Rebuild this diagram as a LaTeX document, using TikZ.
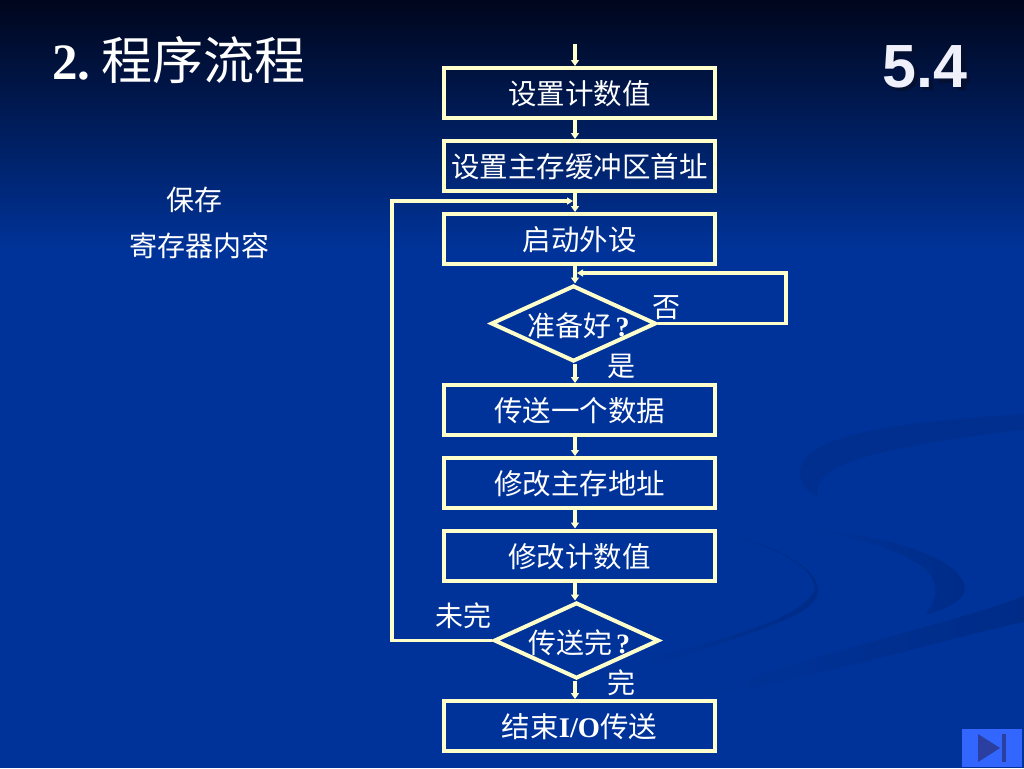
\documentclass[tikz,border=0pt]{standalone}
\usepackage{fontspec}
\usetikzlibrary{shapes.geometric,arrows.meta,calc}
\setmainfont{Noto Sans CJK SC}
\newfontfamily\latinserif{Liberation Serif}
\newfontfamily\latinsans{Liberation Sans}
\definecolor{cream}{HTML}{FFFFCC}
\definecolor{bgtop}{HTML}{00061C}
\definecolor{bgmid}{HTML}{00236C}
\definecolor{bgmain}{HTML}{003399}
\definecolor{swoosh}{HTML}{002C88}
\definecolor{swooshlight}{HTML}{002F90}
\definecolor{btn}{HTML}{3366FF}
\definecolor{btndark}{HTML}{2A3F9F}
\definecolor{numface}{HTML}{F0F0FA}
\definecolor{numshade}{HTML}{050F2E}
\newcommand{\qmark}{\kern4pt{\latinserif\bfseries ?}}
\tikzset{
  x=1pt,y=-1pt,
  flowbox/.style={draw=cream,line width=4pt,rectangle,minimum width=271pt,minimum height=50pt,inner sep=0pt,text=white,text height=26pt,text depth=2.4pt,font=\fontsize{28.5}{28.5}\selectfont},
  flowdia/.style={draw=cream,line width=4pt,diamond,aspect=2.16,minimum width=165pt,minimum height=76pt,inner sep=-8pt,text=white,text height=30pt,text depth=3.4pt,font=\fontsize{28}{28}\selectfont},
  lbl/.style={text=white,inner sep=0pt,font=\fontsize{28}{28}\selectfont},
  conn/.style={draw=cream,line width=3.5pt,-{Triangle[length=6pt,width=8pt]}},
  fback/.style={draw=cream,line width=3.5pt,-{Triangle[length=6pt,width=7pt]},line join=miter},
}
\begin{document}
\begin{tikzpicture}
\useasboundingbox (0,0) rectangle (1024,768);
% background
\fill[bgmain] (0,0) rectangle (1024,768);
\shade[top color=bgtop,middle color=bgmid,bottom color=bgmain] (0,0) rectangle (1024,250);
% swooshes
\fill[swooshlight] (1024,414) .. controls (930,420) and (800,430) .. (800,472) .. controls (800,485) and (808,492) .. (818,497) .. controls (812,470) and (850,450) .. (1024,430) -- cycle;
\shade[left color=bgmain,right color=swoosh] (1024,596) .. controls (950,625) and (800,655) .. (700,697) .. controls (810,680) and (940,640) .. (1024,622) -- cycle;
\shade[left color=bgmain,right color=swoosh] (640,660) .. controls (720,640) and (800,620) .. (815,590) .. controls (815,565) and (770,545) .. (725,535) .. controls (780,545) and (818,570) .. (818,590) .. controls (818,612) and (780,625) .. (640,670) -- cycle;
\shade[left color=bgmain,right color=swoosh] (807,528) .. controls (880,535) and (960,555) .. (965,588) .. controls (965,600) and (945,610) .. (925,615) .. controls (935,600) and (940,590) .. (930,575) .. controls (910,550) and (860,540) .. (807,528) -- cycle;
% button
\fill[btn] (962,729) rectangle (1022,767);
\fill[btndark] (978,734) -- (1000,748) -- (978,762) -- cycle;
\fill[btndark] (1002,734) rectangle (1006,762);
% title
\node[lbl,anchor=west,font=\fontsize{51}{51}\selectfont] (title) at (52,60) {{\latinserif\bfseries 2.}\kern11pt 程序流程};
% drop shadow of the slide number
\begin{scope}[shift={(3,3)}]
\fill[numshade,opacity=.85] (889,43) -- (913,43) -- (913,51) -- (896,51) -- (894,60) .. controls (908,55) and (916,63) .. (916,71) .. controls (916,82) and (908,88) .. (899,88) .. controls (890,88) and (884,83) .. (884,75) -- (892,75) .. controls (892,79) and (896,81) .. (899,81) .. controls (904,81) and (908,77) .. (908,71) .. controls (908,66) and (904,62) .. (899,62) .. controls (896,62) and (894,63) .. (892,66) -- (885,66) -- cycle;
\fill[numshade,opacity=.85] (920,77) rectangle (930,87);
\fill[numshade,opacity=.85,even odd rule] (956,43) -- (936,73) -- (936,80) -- (955,80) -- (955,87) -- (963,87) -- (963,80) -- (967,80) -- (967,73) -- (963,73) -- (963,43) -- cycle (955,73) -- (955,55) -- (944,73) -- cycle;
\end{scope}
\node[inner sep=0pt,text=numface,font=\fontsize{61}{61}\selectfont\latinsans\bfseries] (num) at (925,67) {5.4};
% side labels
\node[lbl] (save1) at (194,200) {保存};
\node[lbl] (save2) at (199,246) {寄存器内容};
% flow nodes
\node[flowbox] (b1) at (579.5,93) {设置计数值};
\node[flowbox] (b2) at (579.5,166) {设置主存缓冲区首址};
\node[flowbox] (b3) at (579.5,239) {启动外设};
\node[flowdia] (d1) at (573.5,323.5) {\hspace*{10pt}准备好\qmark};
\node[flowbox] (b4) at (579.5,410) {传送一个数据};
\node[flowbox] (b5) at (579.5,483) {修改主存地址};
\node[flowbox] (b6) at (579.5,555.5) {修改计数值};
\node[flowdia] (d2) at (576.5,640.5) {\hspace*{5pt}传送完\qmark};
\node[flowbox] (b7) at (579.5,726) {结束{\latinserif\bfseries I/O}传送};
% branch labels
\node[lbl] (no) at (666,308) {否};
\node[lbl] (yes) at (621,366) {是};
\node[lbl] (notdone) at (463,616) {未完};
\node[lbl] (done) at (621,683) {完};
% helpers
\coordinate (ax) at (575,0);
\coordinate (start) at (575,44);
\coordinate (merge1) at (573,201);
\coordinate (merge2) at (577,273);
\coordinate (leftrun) at (392,0);
\coordinate (rightrun) at (786,0);
% connectors
\draw[conn] (start) -- (b1.north -| ax);
\draw[conn] (b1.south -| ax) -- (b2.north -| ax);
\draw[conn] (b2.south -| ax) -- (b3.north -| ax);
\draw[conn] (b3.south -| ax) -- (d1.north -| ax);
\draw[conn] (d1.south -| ax) -- (b4.north -| ax);
\draw[conn] (b4.south -| ax) -- (b5.north -| ax);
\draw[conn] (b5.south -| ax) -- (b6.north -| ax);
\draw[conn] (b6.south -| ax) -- (d2.north -| ax);
\draw[conn] (d2.south -| ax) -- (b7.north -| ax);
\draw[fback] (d2.west) -- (d2.west -| leftrun) -- (merge1 -| leftrun) -- (merge1);
\draw[fback] (d1.east) -- (d1.east -| rightrun) -- (merge2 -| rightrun) -- (merge2);
\end{tikzpicture}
\end{document}
